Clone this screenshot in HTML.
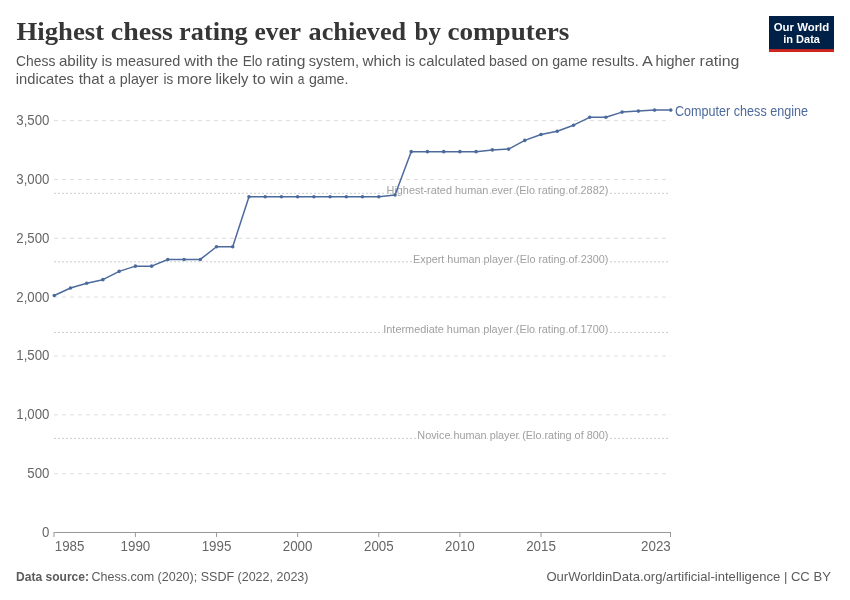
<!DOCTYPE html>
<html lang="en">
<head>
<meta charset="utf-8">
<title>Highest chess rating ever achieved by computers</title>
<style>
html,body{margin:0;padding:0;background:#fff;}
body{width:850px;height:600px;overflow:hidden;}
svg{display:block;}
text{font-family:"Liberation Sans", Arial, sans-serif;}
.title{font-family:"Liberation Serif", "Times New Roman", serif;font-weight:700;fill:#363636;}
.sub{fill:#555;}
.tick{fill:#666;font-size:14px;}
.cmp{fill:#a0a0a0;font-size:10.4px;paint-order:stroke;stroke:#fff;stroke-width:2px;stroke-linejoin:round;}
.foot{fill:#5b5b5b;font-size:13px;}
</style>
</head>
<body>
<svg width="850" height="600" viewBox="0 0 850 600">
<rect width="850" height="600" fill="#fff"/>
<text class="title" y="40.2" font-size="26"><tspan x="16.59" textLength="87.50" lengthAdjust="spacingAndGlyphs">Highest</tspan> <tspan x="110.79" textLength="62.18" lengthAdjust="spacingAndGlyphs">chess</tspan> <tspan x="179.14" textLength="68.60" lengthAdjust="spacingAndGlyphs">rating</tspan> <tspan x="254.48" textLength="46.03" lengthAdjust="spacingAndGlyphs">ever</tspan> <tspan x="308.54" textLength="97.62" lengthAdjust="spacingAndGlyphs">achieved</tspan> <tspan x="414.56" textLength="26.35" lengthAdjust="spacingAndGlyphs">by</tspan> <tspan x="447.42" textLength="121.99" lengthAdjust="spacingAndGlyphs">computers</tspan></text>
<text class="sub" y="65.8" font-size="15"><tspan x="16.11" textLength="39.28" lengthAdjust="spacingAndGlyphs">Chess</tspan> <tspan x="58.90" textLength="38.72" lengthAdjust="spacingAndGlyphs">ability</tspan> <tspan x="101.51" textLength="10.79" lengthAdjust="spacingAndGlyphs">is</tspan> <tspan x="115.94" textLength="64.28" lengthAdjust="spacingAndGlyphs">measured</tspan> <tspan x="184.30" textLength="28.71" lengthAdjust="spacingAndGlyphs">with</tspan> <tspan x="216.94" textLength="21.28" lengthAdjust="spacingAndGlyphs">the</tspan> <tspan x="242.77" textLength="19.66" lengthAdjust="spacingAndGlyphs">Elo</tspan> <tspan x="266.36" textLength="39.12" lengthAdjust="spacingAndGlyphs">rating</tspan> <tspan x="308.81" textLength="50.18" lengthAdjust="spacingAndGlyphs">system,</tspan> <tspan x="362.50" textLength="38.67" lengthAdjust="spacingAndGlyphs">which</tspan> <tspan x="405.30" textLength="9.73" lengthAdjust="spacingAndGlyphs">is</tspan> <tspan x="418.81" textLength="66.63" lengthAdjust="spacingAndGlyphs">calculated</tspan> <tspan x="489.06" textLength="38.25" lengthAdjust="spacingAndGlyphs">based</tspan> <tspan x="531.60" textLength="16.85" lengthAdjust="spacingAndGlyphs">on</tspan> <tspan x="552.13" textLength="35.47" lengthAdjust="spacingAndGlyphs">game</tspan> <tspan x="591.63" textLength="47.10" lengthAdjust="spacingAndGlyphs">results.</tspan> <tspan x="642.10" textLength="10.02" lengthAdjust="spacingAndGlyphs">A</tspan> <tspan x="655.44" textLength="39.95" lengthAdjust="spacingAndGlyphs">higher</tspan> <tspan x="699.64" textLength="39.75" lengthAdjust="spacingAndGlyphs">rating</tspan></text>
<text class="sub" y="83.9" font-size="15"><tspan x="15.82" textLength="58.13" lengthAdjust="spacingAndGlyphs">indicates</tspan> <tspan x="78.65" textLength="25.28" lengthAdjust="spacingAndGlyphs">that</tspan> <tspan x="108.39" textLength="6.89" lengthAdjust="spacingAndGlyphs">a</tspan> <tspan x="119.85" textLength="38.75" lengthAdjust="spacingAndGlyphs">player</tspan> <tspan x="163.50" textLength="9.73" lengthAdjust="spacingAndGlyphs">is</tspan> <tspan x="177.08" textLength="34.92" lengthAdjust="spacingAndGlyphs">more</tspan> <tspan x="215.52" textLength="32.78" lengthAdjust="spacingAndGlyphs">likely</tspan> <tspan x="252.64" textLength="13.21" lengthAdjust="spacingAndGlyphs">to</tspan> <tspan x="270.00" textLength="23.46" lengthAdjust="spacingAndGlyphs">win</tspan> <tspan x="297.80" textLength="6.67" lengthAdjust="spacingAndGlyphs">a</tspan> <tspan x="308.93" textLength="39.55" lengthAdjust="spacingAndGlyphs">game.</tspan></text>
<g>
<rect x="769" y="16" width="65" height="36" fill="#002147"/>
<rect x="769" y="49.1" width="65" height="2.9" fill="#ce261e"/>
<text x="801.5" y="31" font-size="11.3" font-weight="700" fill="#fff" text-anchor="middle" textLength="55.5" lengthAdjust="spacingAndGlyphs">Our World</text>
<text x="801.6" y="42.6" font-size="11.3" font-weight="700" fill="#fff" text-anchor="middle" textLength="36.8" lengthAdjust="spacingAndGlyphs">in Data</text>
</g>
<g stroke="#ddd" stroke-width="1" stroke-dasharray="4,4" fill="none">
<line x1="54.0" x2="670.5" y1="473.7" y2="473.7"/>
<line x1="54.0" x2="670.5" y1="414.8" y2="414.8"/>
<line x1="54.0" x2="670.5" y1="356.0" y2="356.0"/>
<line x1="54.0" x2="670.5" y1="297.1" y2="297.1"/>
<line x1="54.0" x2="670.5" y1="238.3" y2="238.3"/>
<line x1="54.0" x2="670.5" y1="179.4" y2="179.4"/>
<line x1="54.0" x2="670.5" y1="120.6" y2="120.6"/>
</g>
<g class="tick" text-anchor="end">
<text transform="translate(49.4,536.9) scale(0.945,1)">0</text>
<text transform="translate(49.4,478.1) scale(0.945,1)">500</text>
<text transform="translate(49.4,419.2) scale(0.945,1)">1,000</text>
<text transform="translate(49.4,360.4) scale(0.945,1)">1,500</text>
<text transform="translate(49.4,301.5) scale(0.945,1)">2,000</text>
<text transform="translate(49.4,242.7) scale(0.945,1)">2,500</text>
<text transform="translate(49.4,183.8) scale(0.945,1)">3,000</text>
<text transform="translate(49.4,125.0) scale(0.945,1)">3,500</text>
</g>
<line x1="54.0" x2="668.5" y1="193.3" y2="193.3" stroke="#ccc" stroke-width="1" stroke-dasharray="2,2"/>
 <text class="cmp" x="386.5" y="194.0" textLength="221.9" lengthAdjust="spacingAndGlyphs">Highest-rated human ever (Elo rating of 2882)</text>
<line x1="54.0" x2="668.5" y1="261.8" y2="261.8" stroke="#ccc" stroke-width="1" stroke-dasharray="2,2"/>
 <text class="cmp" x="413.0" y="262.5" textLength="195.4" lengthAdjust="spacingAndGlyphs">Expert human player (Elo rating of 2300)</text>
<line x1="54.0" x2="668.5" y1="332.4" y2="332.4" stroke="#ccc" stroke-width="1" stroke-dasharray="2,2"/>
 <text class="cmp" x="383.3" y="333.1" textLength="225.1" lengthAdjust="spacingAndGlyphs">Intermediate human player (Elo rating of 1700)</text>
<line x1="54.0" x2="668.5" y1="438.4" y2="438.4" stroke="#ccc" stroke-width="1" stroke-dasharray="2,2"/>
 <text class="cmp" x="417.3" y="439.1" textLength="191.1" lengthAdjust="spacingAndGlyphs">Novice human player (Elo rating of 800)</text>
<line x1="54.0" x2="670.5" y1="532.5" y2="532.5" stroke="#999" stroke-width="1"/>
<g stroke="#999" stroke-width="1">
<line x1="54.00" x2="54.00" y1="532.0" y2="537.0"/>
<line x1="135.40" x2="135.40" y1="532.0" y2="537.0"/>
<line x1="216.52" x2="216.52" y1="532.0" y2="537.0"/>
<line x1="297.65" x2="297.65" y1="532.0" y2="537.0"/>
<line x1="378.77" x2="378.77" y1="532.0" y2="537.0"/>
<line x1="459.90" x2="459.90" y1="532.0" y2="537.0"/>
<line x1="541.02" x2="541.02" y1="532.0" y2="537.0"/>
<line x1="670.50" x2="670.50" y1="532.0" y2="537.0"/>
</g>
<g class="tick">
<text transform="translate(54.7,550.7) scale(0.955,1)" text-anchor="start">1985</text>
<text transform="translate(135.4,550.7) scale(0.955,1)" text-anchor="middle">1990</text>
<text transform="translate(216.5,550.7) scale(0.955,1)" text-anchor="middle">1995</text>
<text transform="translate(297.6,550.7) scale(0.955,1)" text-anchor="middle">2000</text>
<text transform="translate(378.8,550.7) scale(0.955,1)" text-anchor="middle">2005</text>
<text transform="translate(459.9,550.7) scale(0.955,1)" text-anchor="middle">2010</text>
<text transform="translate(541.0,550.7) scale(0.955,1)" text-anchor="middle">2015</text>
<text transform="translate(670.8,550.7) scale(0.955,1)" text-anchor="end">2023</text>
</g>
<path d="M54.3,295.45 L70.5,287.95 L86.7,283.25 L102.9,279.65 L119.2,271.35 L135.4,266.15 L151.6,266.15 L167.8,259.45 L184.1,259.45 L200.3,259.45 L216.5,246.75 L232.7,246.75 L249.0,196.75 L265.2,196.75 L281.4,196.75 L297.6,196.75 L313.9,196.75 L330.1,196.75 L346.3,196.75 L362.5,196.75 L378.8,196.75 L395.0,194.95 L411.2,151.65 L427.4,151.65 L443.7,151.65 L459.9,151.65 L476.1,151.65 L492.3,149.90 L508.6,149.10 L524.8,140.40 L541.0,134.50 L557.2,131.20 L573.5,125.20 L589.7,117.30 L605.9,117.30 L622.1,112.10 L638.4,111.10 L654.6,110.10 L670.8,110.10" fill="none" stroke="#4c6a9c" stroke-width="1.5" stroke-linejoin="round" stroke-linecap="round"/>
<g fill="#4c6a9c">
<circle cx="54.3" cy="295.45" r="1.8"/>
<circle cx="70.5" cy="287.95" r="1.8"/>
<circle cx="86.7" cy="283.25" r="1.8"/>
<circle cx="102.9" cy="279.65" r="1.8"/>
<circle cx="119.2" cy="271.35" r="1.8"/>
<circle cx="135.4" cy="266.15" r="1.8"/>
<circle cx="151.6" cy="266.15" r="1.8"/>
<circle cx="167.8" cy="259.45" r="1.8"/>
<circle cx="184.1" cy="259.45" r="1.8"/>
<circle cx="200.3" cy="259.45" r="1.8"/>
<circle cx="216.5" cy="246.75" r="1.8"/>
<circle cx="232.7" cy="246.75" r="1.8"/>
<circle cx="249.0" cy="196.75" r="1.8"/>
<circle cx="265.2" cy="196.75" r="1.8"/>
<circle cx="281.4" cy="196.75" r="1.8"/>
<circle cx="297.6" cy="196.75" r="1.8"/>
<circle cx="313.9" cy="196.75" r="1.8"/>
<circle cx="330.1" cy="196.75" r="1.8"/>
<circle cx="346.3" cy="196.75" r="1.8"/>
<circle cx="362.5" cy="196.75" r="1.8"/>
<circle cx="378.8" cy="196.75" r="1.8"/>
<circle cx="395.0" cy="194.95" r="1.8"/>
<circle cx="411.2" cy="151.65" r="1.8"/>
<circle cx="427.4" cy="151.65" r="1.8"/>
<circle cx="443.7" cy="151.65" r="1.8"/>
<circle cx="459.9" cy="151.65" r="1.8"/>
<circle cx="476.1" cy="151.65" r="1.8"/>
<circle cx="492.3" cy="149.90" r="1.8"/>
<circle cx="508.6" cy="149.10" r="1.8"/>
<circle cx="524.8" cy="140.40" r="1.8"/>
<circle cx="541.0" cy="134.50" r="1.8"/>
<circle cx="557.2" cy="131.20" r="1.8"/>
<circle cx="573.5" cy="125.20" r="1.8"/>
<circle cx="589.7" cy="117.30" r="1.8"/>
<circle cx="605.9" cy="117.30" r="1.8"/>
<circle cx="622.1" cy="112.10" r="1.8"/>
<circle cx="638.4" cy="111.10" r="1.8"/>
<circle cx="654.6" cy="110.10" r="1.8"/>
<circle cx="670.8" cy="110.10" r="1.8"/>
</g>
<text x="675" y="116" font-size="13.9" fill="#4c6a9c" textLength="133" lengthAdjust="spacingAndGlyphs">Computer chess engine</text>
<text class="foot" x="16" y="581" font-weight="700" textLength="73" lengthAdjust="spacingAndGlyphs">Data source:</text>
<text class="foot" x="91.5" y="581" textLength="217" lengthAdjust="spacingAndGlyphs">Chess.com (2020); SSDF (2022, 2023)</text>
<text class="foot" x="546.4" y="581" textLength="284.5" lengthAdjust="spacingAndGlyphs">OurWorldinData.org/artificial-intelligence | CC BY</text>
</svg>
</body>
</html>
